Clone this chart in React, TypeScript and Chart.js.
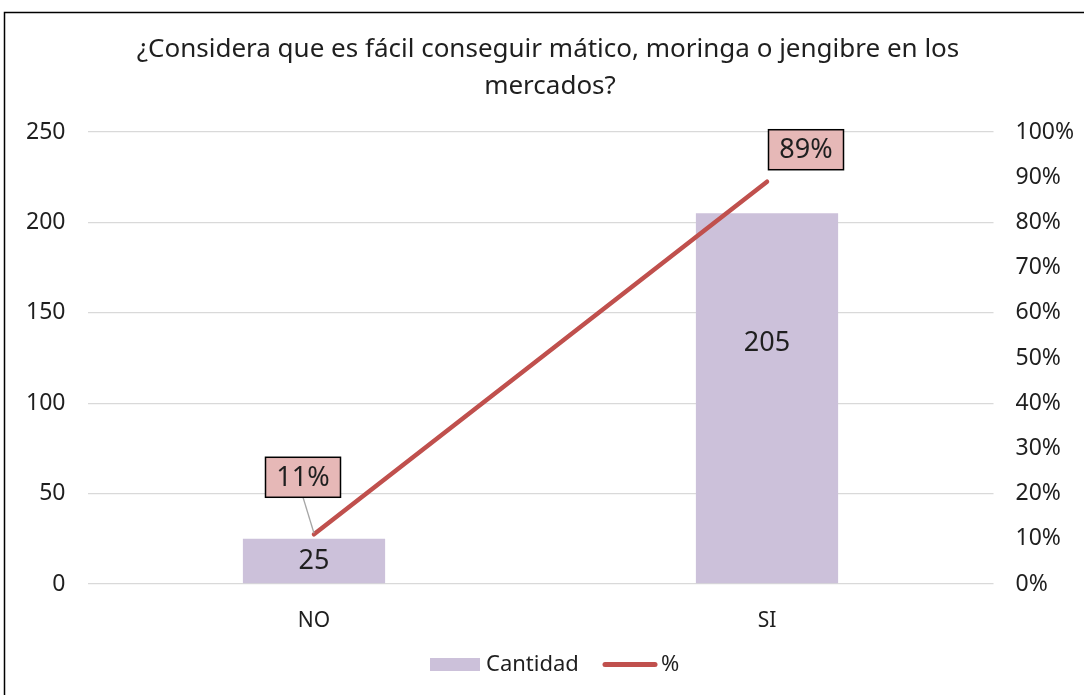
import React, { useEffect, useRef } from "react";
import { Chart, registerables } from "chart.js";

Chart.register(...registerables);

const categories = ["NO", "SI"];
const cantidad = [25, 205];
const porcentaje = [0.11, 0.89];
const percentLabels = ["11%", "89%"];
const titleLines = ["¿Considera que es fácil conseguir mático, moringa o jengibre en los", "mercados?"];
const leftTicks = [0, 50, 100, 150, 200, 250];

const FONT = "'Noto Sans', 'Open Sans', sans-serif";
const BAR_COLOR = "#CCC1DA";
const LINE_COLOR = "#C0504D";
const TEXT_COLOR = "#1f1f1f";

const decorPlugin = {
  id: "decor",
  beforeDraw(chart: any) {
    const ctx = chart.ctx;
    ctx.save();
    ctx.fillStyle = "#ffffff";
    ctx.fillRect(0, 0, chart.width, chart.height);
    ctx.strokeStyle = "#000000";
    ctx.lineWidth = 1.5;
    ctx.beginPath();
    ctx.moveTo(4.5, chart.height + 5);
    ctx.lineTo(4.5, 12.5);
    ctx.lineTo(chart.width + 5, 12.5);
    ctx.stroke();
    // title
    ctx.fillStyle = TEXT_COLOR;
    ctx.font = `26px ${FONT}`;
    ctx.textAlign = "center";
    ctx.textBaseline = "middle";
    ctx.fillText(titleLines[0], 548, 50);
    ctx.fillText(titleLines[1], 550, 87);
    ctx.restore();
  },
  afterDatasetsDraw(chart: any) {
    const ctx = chart.ctx;
    ctx.save();
    ctx.font = `27px ${FONT}`;
    ctx.textAlign = "center";
    ctx.textBaseline = "middle";
    ctx.fillStyle = TEXT_COLOR;
    // bar labels
    const barMeta = chart.getDatasetMeta(0);
    barMeta.data.forEach((el: any, i: number) => {
      const y = i === 0 ? (el.y + el.base) / 2 : el.y + 130;
      ctx.fillStyle = TEXT_COLOR;
      ctx.fillText(String(cantidad[i]), el.x, y);
    });
    // percent labels with boxes
    const lineMeta = chart.getDatasetMeta(1);
    const offsets = [
      { dx: -11, dy: -57 },
      { dx: 39, dy: -32 },
    ];
    lineMeta.data.forEach((el: any, i: number) => {
      const cx = el.x + offsets[i].dx;
      const cy = el.y + offsets[i].dy;
      const w = 75;
      const h = 40;
      if (i === 0) {
        ctx.strokeStyle = "#A6A6A6";
        ctx.lineWidth = 1.3;
        ctx.beginPath();
        ctx.moveTo(cx, cy + h / 2);
        ctx.lineTo(el.x, el.y - 1);
        ctx.stroke();
      }
      ctx.fillStyle = "#E6B8B7";
      ctx.fillRect(cx - w / 2, cy - h / 2, w, h);
      ctx.strokeStyle = "#000000";
      ctx.lineWidth = 1.5;
      ctx.strokeRect(cx - w / 2, cy - h / 2, w, h);
      ctx.fillStyle = TEXT_COLOR;
      ctx.fillText(percentLabels[i], cx, cy + 1);
    });
    // legend
    ctx.font = `22px ${FONT}`;
    ctx.textAlign = "left";
    ctx.fillStyle = BAR_COLOR;
    ctx.fillRect(430, 658, 50, 13);
    ctx.fillStyle = TEXT_COLOR;
    ctx.fillText("Cantidad", 486, 665);
    ctx.strokeStyle = LINE_COLOR;
    ctx.lineWidth = 5;
    ctx.lineCap = "round";
    ctx.beginPath();
    ctx.moveTo(605, 664.5);
    ctx.lineTo(655, 664.5);
    ctx.stroke();
    ctx.fillStyle = TEXT_COLOR;
    ctx.fillText("%", 661, 665);
    ctx.restore();
  },
};

export default function App() {
  const ref = useRef<HTMLCanvasElement | null>(null);
  useEffect(() => {
    if (!ref.current) return;
    const chart = new Chart(ref.current, {
      type: "bar",
      data: {
        labels: categories,
        datasets: [
          {
            type: "bar",
            label: "Cantidad",
            data: cantidad,
            backgroundColor: BAR_COLOR,
            yAxisID: "y",
            barPercentage: 0.314,
            categoryPercentage: 1,
            order: 2,
          },
          {
            type: "line",
            label: "%",
            data: porcentaje,
            borderColor: LINE_COLOR,
            backgroundColor: LINE_COLOR,
            borderWidth: 4.5,
            borderCapStyle: "round",
            pointRadius: 0,
            yAxisID: "y1",
            order: 1,
          },
        ],
      } as any,
      options: {
        responsive: false,
        animation: false,
        layout: { padding: { top: 132, left: 0, right: 0, bottom: 0 } },
        plugins: {
          legend: { display: false },
          title: { display: false },
          tooltip: { enabled: false },
        },
        scales: {
          x: {
            grid: { display: false },
            border: { display: false },
            ticks: { color: TEXT_COLOR, font: { family: FONT, size: 21 }, padding: 16 },
            afterFit: (s: any) => {
              s.height = 111;
            },
          },
          y: {
            position: "left",
            min: 0,
            max: 250,
            afterBuildTicks: (s: any) => {
              s.ticks = leftTicks.map((v) => ({ value: v }));
            },
            grid: { color: "#D9D9D9", lineWidth: 1.3, drawTicks: false },
            border: { display: false },
            ticks: { color: TEXT_COLOR, font: { family: FONT, size: 23 }, padding: 22 },
            afterFit: (s: any) => {
              s.width = 87.5;
            },
          },
          y1: {
            position: "right",
            min: 0,
            max: 1,
            grid: { display: false, drawTicks: false },
            border: { display: false },
            ticks: {
              stepSize: 0.1,
              color: TEXT_COLOR,
              font: { family: FONT, size: 23 },
              padding: 22,
              callback: (v: any) => `${Math.round(Number(v) * 100)}%`,
            },
            afterFit: (s: any) => {
              s.width = 90.5;
            },
          },
        },
      } as any,
      plugins: [decorPlugin],
    });
    return () => chart.destroy();
  }, []);
  return (
    <div style={{ position: "fixed", left: 0, top: 0, width: 1084, height: 695 }}>
      <canvas ref={ref} width={1084} height={695} />
    </div>
  );
}
